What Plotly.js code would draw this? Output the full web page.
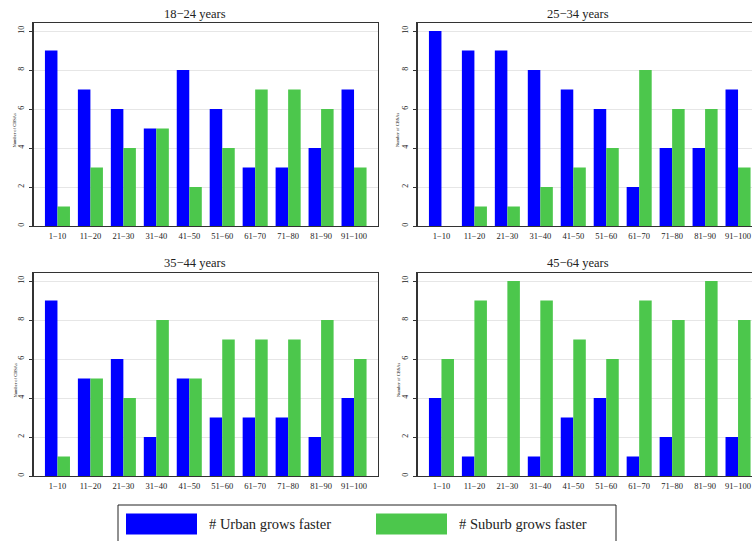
<!DOCTYPE html>
<html>
<head>
<meta charset="utf-8">
<script src="https://cdn.plot.ly/plotly-3.0.1.min.js"></script>
<style>
html,body{margin:0;padding:0;overflow:hidden;background:#fff;}
#chart{width:800px;height:541px;}
</style>
</head>
<body>
<div id="chart"></div>
<script>
const categories = ["1−10","11−20","21−30","31−40","41−50","51−60","61−70","71−80","81−90","91−100"];
const panelTitles = ["18−24 years","25−34 years","35−44 years","45−64 years"];
const urban18_24 = [9,7,6,5,8,6,3,3,4,7];
const suburb18_24 = [1,3,4,5,2,4,7,7,6,3];
const urban25_34 = [10,9,9,8,7,6,2,4,4,7];
const suburb25_34 = [0,1,1,2,3,4,8,6,6,3];
const urban35_44 = [9,5,6,2,5,3,3,3,2,4];
const suburb35_44 = [1,5,4,8,5,7,7,7,8,6];
const urban45_64 = [4,1,0,1,3,4,1,2,0,2];
const suburb45_64 = [6,9,10,9,7,6,9,8,10,8];
const yTicks = [0,2,4,6,8,10];
const legendLabels = ["# Urban grows faster","# Suburb grows faster"];

const BLUE = "#0000ff", GREEN = "#4cc74c";
const SERIF = "Liberation Serif, Times New Roman, DejaVu Serif, serif";
const W = 800, H = 541;
const px = v => v / W;
const py = v => 1 - v / H;

const urbanSets = [urban18_24, urban25_34, urban35_44, urban45_64];
const suburbSets = [suburb18_24, suburb25_34, suburb35_44, suburb45_64];

const xDomains = [[px(33.5), px(378)], [px(417.5), px(762)], [px(33.5), px(378)], [px(417.5), px(762)]];
const yDomains = [[py(226), py(23)], [py(226), py(23)], [py(476), py(273)], [py(476), py(273)]];
const titleX = [195, 578, 195, 578];
const titleY = [14, 14, 263, 263];

const traces = [];
const layout = {
  width: W, height: H,
  margin: {l:0, r:0, t:0, b:0},
  paper_bgcolor: "#fff", plot_bgcolor: "#fff",
  barmode: "group", bargap: 0.24, bargroupgap: 0,
  showlegend: false,
  font: {family: SERIF, color: "#222"},
  annotations: [], shapes: []
};

for (let i = 0; i < 4; i++) {
  const s = i === 0 ? "" : String(i + 1);
  traces.push({type:"bar", x:categories, y:urbanSets[i], name:legendLabels[0],
    marker:{color:BLUE, line:{width:0}}, xaxis:"x"+s, yaxis:"y"+s, hoverinfo:"y"});
  traces.push({type:"bar", x:categories, y:suburbSets[i], name:legendLabels[1],
    marker:{color:GREEN, line:{width:0}}, xaxis:"x"+s, yaxis:"y"+s, hoverinfo:"y"});
  layout["xaxis"+s] = {
    domain: xDomains[i], anchor: "y"+s, type:"category",
    range: [-0.727, 9.727],
    showline: true, mirror: true, linecolor: "#333", linewidth: 1.3,
    ticks: "", showgrid: false, zeroline: false,
    tickfont: {size: 8.5, family: SERIF, color:"#222"},
    ticklabelstandoff: 1
  };
  layout["yaxis"+s] = {
    domain: yDomains[i], anchor: "x"+s,
    range: [0, 10.41],
    tickvals: yTicks, ticktext: yTicks.map(String),
    tickangle: -90,
    ticks: "outside", ticklen: 3, tickcolor: "#333", tickwidth: 1,
    showline: true, mirror: true, linecolor: "#333", linewidth: 1.3,
    showgrid: true, gridcolor: "#e6e6e6", gridwidth: 1, zeroline: false,
    tickfont: {size: 8, family: SERIF, color:"#222"},
    ticklabelstandoff: 2
  };
  layout.annotations.push({
    text: panelTitles[i], xref:"paper", yref:"paper",
    x: px(titleX[i]), y: py(titleY[i]), xanchor:"center", yanchor:"middle",
    showarrow:false, font:{size:12.5, family:SERIF, color:"#222"}
  });
  layout.annotations.push({
    text: "Number of CBSAs", xref:"paper", yref:"paper",
    x: px(titleX[i] === 195 ? 14.5 : 398), y: py(titleY[i] === 14 ? 130 : 380),
    xanchor:"center", yanchor:"middle", textangle:-90,
    showarrow:false, font:{size:4.5, family:SERIF, color:"#222"}
  });
}

// legend box
layout.shapes.push({type:"rect", xref:"paper", yref:"paper",
  x0: px(118), x1: px(616), y0: py(545), y1: py(505),
  line:{color:"#222", width:1}, fillcolor:"rgba(0,0,0,0)"});
layout.shapes.push({type:"rect", xref:"paper", yref:"paper",
  x0: px(126), x1: px(197), y0: py(534.5), y1: py(513.5),
  line:{width:0}, fillcolor:BLUE});
layout.shapes.push({type:"rect", xref:"paper", yref:"paper",
  x0: px(376), x1: px(447), y0: py(534.5), y1: py(513.5),
  line:{width:0}, fillcolor:GREEN});
layout.annotations.push({text: legendLabels[0], xref:"paper", yref:"paper",
  x: px(207), y: py(524), xanchor:"left", yanchor:"middle", showarrow:false,
  font:{size:14.5, family:SERIF, color:"#222"}});
layout.annotations.push({text: legendLabels[1], xref:"paper", yref:"paper",
  x: px(457), y: py(524), xanchor:"left", yanchor:"middle", showarrow:false,
  font:{size:14.5, family:SERIF, color:"#222"}});

Plotly.newPlot("chart", traces, layout, {displayModeBar:false, staticPlot:true});
</script>
</body>
</html>
